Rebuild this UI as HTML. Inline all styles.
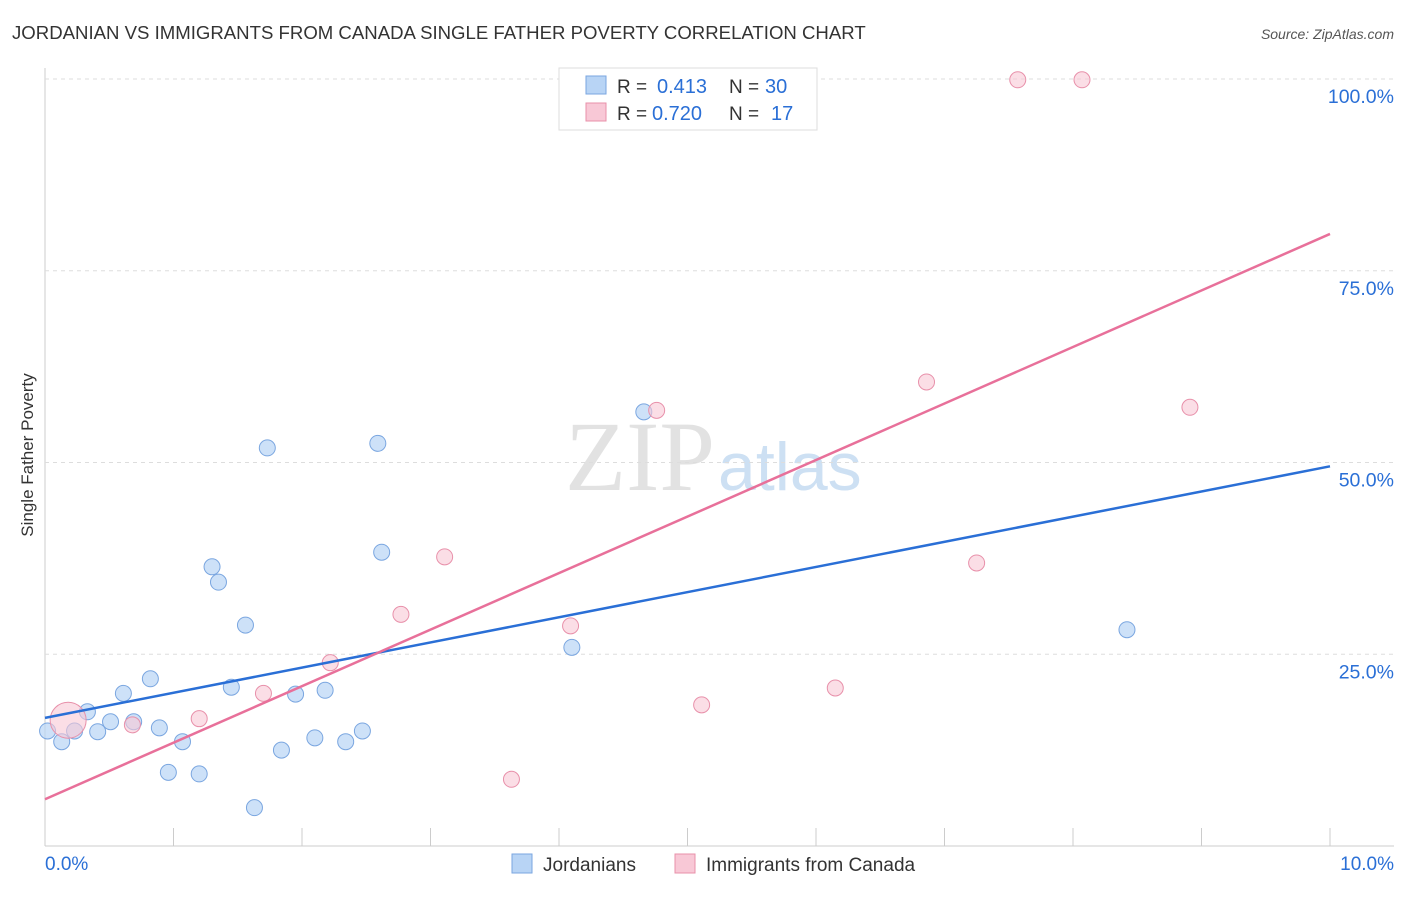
<!DOCTYPE html>
<html><head><meta charset="utf-8">
<style>
body{margin:0;background:#fff;font-family:"Liberation Sans",sans-serif;}
svg text{font-family:"Liberation Sans",sans-serif;}
</style></head>
<body>
<svg id="chart" width="1406" height="892">
<text x="12" y="39" font-size="18.6" fill="#333">JORDANIAN VS IMMIGRANTS FROM CANADA SINGLE FATHER POVERTY CORRELATION CHART</text>
<text x="1394" y="39" font-size="14" fill="#555" font-style="italic" text-anchor="end">Source: ZipAtlas.com</text>
<text x="33" y="455" font-size="17" fill="#333" transform="rotate(-90 33 455)" text-anchor="middle">Single Father Poverty</text>
<text x="715" y="490" font-size="100" fill="#e2e2e2" text-anchor="end" font-family="Liberation Serif" style="font-family:'Liberation Serif',serif">ZIP</text>
<text x="718" y="490" font-size="68" fill="#cde0f3">atlas</text>
<g id="grid"></g>
<g id="marks"></g>
<g>
<rect x="559" y="68" width="258" height="62" fill="#fff" stroke="#ddd"/>
<rect x="586" y="76" width="20" height="18" fill="#b8d4f5" stroke="#7aa6e0"/>
<text x="617" y="93" font-size="19" fill="#333">R =</text>
<text x="657" y="93" font-size="20" fill="#2a6fd6">0.413</text>
<text x="729" y="93" font-size="19" fill="#333">N =</text>
<text x="765" y="93" font-size="20" fill="#2a6fd6">30</text>
<rect x="586" y="103" width="20" height="18" fill="#f8c8d6" stroke="#e890aa"/>
<text x="617" y="120" font-size="19" fill="#333">R =</text>
<text x="652" y="120" font-size="20" fill="#2a6fd6">0.720</text>
<text x="729" y="120" font-size="19" fill="#333">N =</text>
<text x="771" y="120" font-size="20" fill="#2a6fd6">17</text>
</g>
<g>
<rect x="512" y="854" width="20" height="19" fill="#b8d4f5" stroke="#7aa6e0"/>
<text x="543" y="871" font-size="19" fill="#333">Jordanians</text>
<rect x="675" y="854" width="20" height="19" fill="#f8c8d6" stroke="#e890aa"/>
<text x="706" y="871" font-size="19" fill="#333">Immigrants from Canada</text>
</g>
<text x="45" y="870" font-size="19" fill="#2a6fd6">0.0%</text>
<text x="1394" y="870" font-size="19" fill="#2a6fd6" text-anchor="end">10.0%</text>
</svg>
<script>
const yTicks=[25,50,75,100];
const yTickLabels=["25.0%","50.0%","75.0%","100.0%"];
const jordX=[0.02,0.13,0.23,0.33,0.41,0.51,0.61,0.69,0.82,0.89,0.96,1.07,1.20,1.30,1.35,1.45,1.56,1.63,1.73,1.84,1.95,2.10,2.18,2.34,2.47,2.59,2.62,4.10,4.66,8.42];
const jordY=[15.0,13.6,15.0,17.5,14.9,16.2,19.9,16.2,21.8,15.4,9.6,13.6,9.4,36.4,34.4,20.7,28.8,5.0,51.9,12.5,19.8,14.1,20.3,13.6,15.0,52.5,38.3,25.9,56.6,28.2];
const canX=[0.18,0.68,1.20,1.70,2.22,2.77,3.11,3.63,4.09,4.76,5.11,6.15,6.86,7.25,7.57,8.07,8.91];
const canY=[16.4,15.8,16.6,19.9,23.9,30.2,37.7,8.7,28.7,56.8,18.4,20.6,60.5,36.9,99.9,99.9,57.2];
const jordTrend=[16.7,49.5];
const canTrend=[6.1,79.8];
const NS="http://www.w3.org/2000/svg";
const sx=v=>45+v*128.5, sy=v=>846-v*7.67;
const grid=document.getElementById('grid'), marks=document.getElementById('marks');
function mk(tag,attrs,parent){const e=document.createElementNS(NS,tag);for(const k in attrs)e.setAttribute(k,attrs[k]);parent.appendChild(e);return e;}
mk('line',{x1:45,y1:68,x2:45,y2:846,stroke:'#ccc'},grid);
mk('line',{x1:45,y1:846,x2:1394,y2:846,stroke:'#ccc'},grid);
for(let i=1;i<=10;i++){mk('line',{x1:sx(i),y1:828,x2:sx(i),y2:846,stroke:'#ccc'},grid);}
yTicks.forEach((t,i)=>{
  const l=mk('line',{x1:45,y1:sy(t),x2:1394,y2:sy(t),stroke:'#ddd','stroke-dasharray':'4,4'},grid);
  
  
  const tx=mk('text',{x:1394,y:sy(t)+24,'font-size':19.5,fill:'#2a6fd6','text-anchor':'end'},grid);
  tx.textContent=yTickLabels[i];
  
  
});
jordX.forEach((x,i)=>{
  const c=mk('circle',{cx:sx(x),cy:sy(jordY[i]),r:8,fill:'rgba(184,212,245,0.7)',stroke:'#7aa6e0'},marks);
  
  
});
canX.forEach((x,i)=>{
  const c=mk('circle',{cx:sx(x),cy:sy(canY[i]),r:i==0?18:8,fill:'rgba(248,200,214,0.6)',stroke:'#e890aa'},marks);
  
  
});
const l1=mk('line',{x1:sx(0),y1:sy(jordTrend[0]),x2:sx(10),y2:sy(jordTrend[1]),stroke:'#2a6fd6','stroke-width':2.5},marks);


const l2=mk('line',{x1:sx(0),y1:sy(canTrend[0]),x2:sx(10),y2:sy(canTrend[1]),stroke:'#e8709a','stroke-width':2.5},marks);


</script>
</body></html>
